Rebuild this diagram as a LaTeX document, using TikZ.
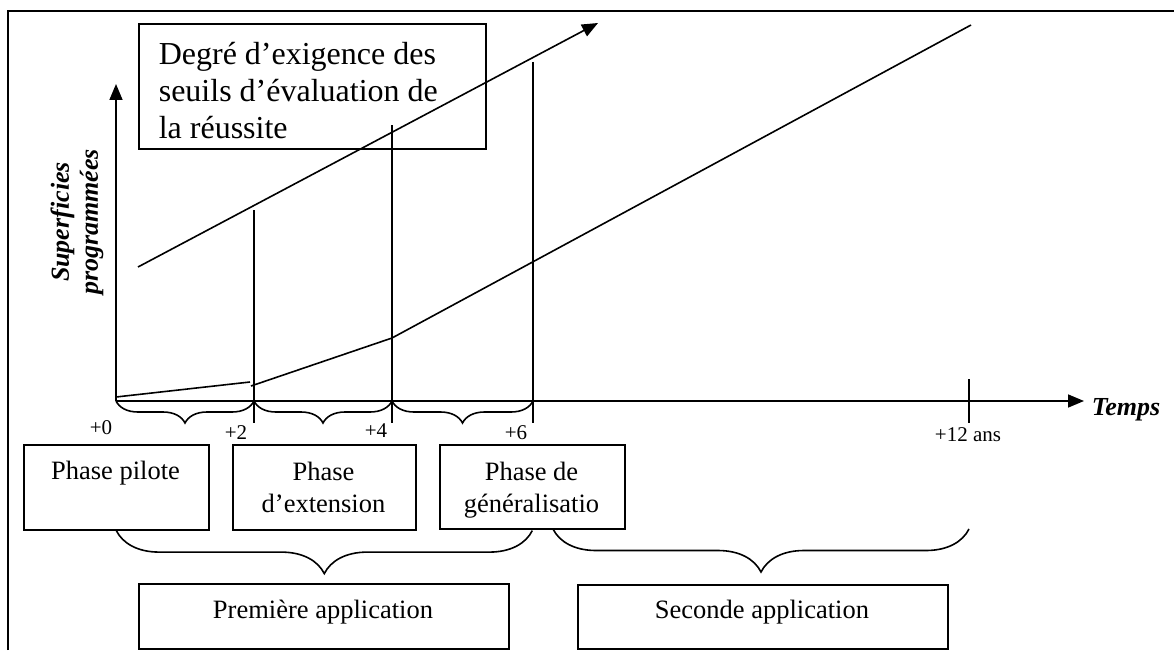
\documentclass[tikz,border=0pt]{standalone}
\usepackage{fontspec}
\setmainfont{Liberation Serif}
\usetikzlibrary{arrows.meta,decorations.pathreplacing}
\begin{document}
\begin{tikzpicture}[x=1pt,y=-1pt,line width=1.6pt,
  box/.style={draw,line width=1.6pt,inner sep=0pt,anchor=north west},
  phasefont/.style={font=\fontsize{26.5}{32}\selectfont,inner sep=0pt},
  bigfont/.style={font=\fontsize{32}{37}\selectfont,inner sep=0pt},
  smallfont/.style={font=\fontsize{21}{25}\selectfont,inner sep=0pt},
  axisfont/.style={font=\fontsize{26}{29}\selectfont\bfseries\itshape,inner sep=0pt},
  tipped/.style={-{Triangle[length=16pt,width=13pt]}},
  bracelow/.style={decorate,decoration={brace,mirror,amplitude=22pt}},
  bracebig/.style={decorate,decoration={brace,mirror,amplitude=43pt}}]
\useasboundingbox (0,0) rectangle (1174,650);
% frame
\draw[line width=2pt] (8,650) -- (8,11) -- (1174,11);
% axes
\coordinate (o) at (116,401);
\coordinate (ytip) at (116,84);
\coordinate (xtip) at (1084,401);
\coordinate (t2) at (254,401);
\coordinate (t4) at (392,401);
\coordinate (t6) at (533,401);
\coordinate (t12) at (969,401);
\draw[tipped] (o) -- (ytip);
\draw[tipped] (o) -- (xtip);
\draw (969,379) -- (969,423);
% vertical phase lines
\draw (254,210) -- (254,423);
\draw (392,125) -- (392,423);
\draw (533,62) -- (533,423);
% threshold arrow
\coordinate (ua) at (138,267);
\coordinate (ub) at (598,23);
\draw[tipped] (ua) -- (ub);
% surfaces curve
\draw (116,397) -- (250,382);
\draw (251,386) -- (392,338) -- (971,25);
% small braces
\draw[bracelow] (o) -- (t2);
\draw[bracelow] (t2) -- (t4);
\draw[bracelow] (t4) -- (t6);
% labels on time axis
\node[smallfont,anchor=base] (l0) at (101,434) {+0};
\node[smallfont,anchor=base] (l2) at (236,439) {+2};
\node[smallfont,anchor=base] (l4) at (376,437) {+4};
\node[smallfont,anchor=base] (l6) at (516,439) {+6};
\node[smallfont,anchor=base] (l12) at (968,441) {+12 ans};
\node[axisfont,anchor=base west] (temps) at (1091,415) {Temps};
\node[axisfont,rotate=90,align=center] (ylab) at (77,222) {Superficies\\programmées};
% threshold box
\node[box,minimum width=347pt,minimum height=125pt] (degbox) at (138,23) {};
\node[bigfont,align=left,anchor=north west] (degtxt) at (158,41) {Degré d’exigence des\\seuils d’évaluation de\\la réussite};
% phase boxes
\node[box,minimum width=185pt,minimum height=85pt] (pilote) at (23,444) {};
\node[phasefont,anchor=base] (pilotetxt) at (115.5,479) {Phase pilote};
\node[box,minimum width=183pt,minimum height=85pt] (ext) at (232,444) {};
\node[phasefont,align=center,anchor=north] (exttxt) at (323.5,461) {Phase\\d’extension};
\node[box,minimum width=185pt,minimum height=84pt] (gen) at (439,444) {};
\node[phasefont,align=center,anchor=north] (gentxt) at (531.5,461) {Phase de\\généralisatio};
% big braces
\coordinate (b2s) at (553,529);
\coordinate (b2e) at (969,529);
\draw[bracebig] (pilote.south) -- (pilote.south -| gen.south);
\draw[bracebig] (b2s) -- (b2e);
% application boxes
\node[box,minimum width=370pt,minimum height=65pt] (prem) at (138,583) {};
\node[phasefont,anchor=base] (premtxt) at (323,618) {Première application};
\node[box,minimum width=370pt,minimum height=64pt] (sec) at (577,584) {};
\node[phasefont,anchor=base] (sectxt) at (762,618) {Seconde application};
\end{tikzpicture}
\end{document}
